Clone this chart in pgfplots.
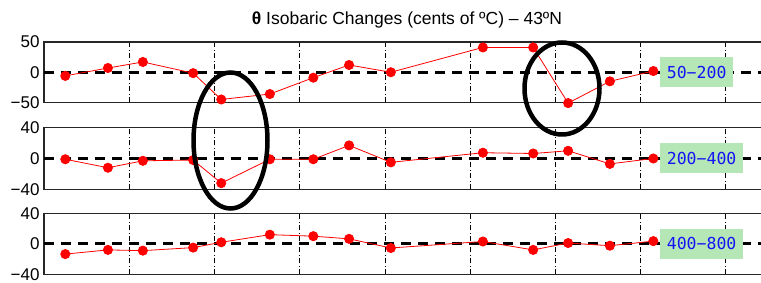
\documentclass[border=0pt]{standalone}
\usepackage{pgfplots}
\pgfplotsset{compat=1.18}
\usepackage{fontspec}
\setmainfont{Liberation Sans}
\newfontfamily\monofont{DejaVu Sans Mono}
\definecolor{boxgreen}{RGB}{181,230,181}
\definecolor{lblue}{RGB}{20,20,245}
\pgfplotsset{
  panel/.style={
    anchor=south west,
    scale only axis,
    width=767pt,
    xmin=0, xmax=9,
    xtick={1,2,3,4,5,6,7,8},
    xticklabels={},
    xmajorgrids,
    major grid style={black, line width=0.6pt, dash pattern=on 5pt off 2.5pt on 1pt off 2.5pt},
    major tick length=0pt,
    axis line style={black!85, line width=1.1pt},
    yticklabel style={font=\fontsize{17}{17}\selectfont, xshift=-1pt},
    clip=false,
  },
  zero/.style={black, line width=2.6pt, dash pattern=on 10pt off 7pt, forget plot},
  ser/.style={red, line width=0.8pt, mark=*, mark size=4.6pt, mark options={fill=red, draw=red}},
}
\tikzset{
  lbl/.style={anchor=west, fill=boxgreen, text=lblue, font=\monofont\fontsize{16.5}{16.5}\selectfont, inner xsep=6.5pt, minimum height=30pt},
}
\begin{document}
\begin{tikzpicture}
\useasboundingbox (0pt,0pt) rectangle (761pt,283pt);
\clip (0pt,0pt) rectangle (761pt,283pt);
% top panel
\begin{axis}[panel, at={(44pt,180.5pt)}, height=60.5pt,
  ymin=-50, ymax=50, ytick={-50,0,50}, yticklabels={−50,0,50}]
\addplot[zero] coordinates {(0,0) (9,0)};
\addplot[ser] coordinates {
(0.25,-6) (0.75,7) (1.16,17) (1.75,-1.5) (2.08,-45) (2.65,-36) (3.16,-9)
(3.58,12) (4.07,0) (5.15,41) (5.74,41) (6.15,-51) (6.64,-15) (7.15,2)};
\node[lbl] at (axis cs:7.23,0) {50−200};
\end{axis}
% middle panel
\begin{axis}[panel, at={(44pt,93.7pt)}, height=61.6pt,
  ymin=-40, ymax=40, ytick={-40,0,40}, yticklabels={−40,0,40}]
\addplot[zero] coordinates {(0,0) (9,0)};
\addplot[ser] coordinates {
(0.25,-1) (0.75,-12) (1.16,-3) (1.75,-2) (2.08,-32) (2.65,-1) (3.16,-1)
(3.58,17) (4.07,-5) (5.15,7.5) (5.74,6.5) (6.15,10) (6.64,-7) (7.15,0)};
\node[lbl] at (axis cs:7.23,0) {200−400};
\end{axis}
% bottom panel
\begin{axis}[panel, at={(44pt,8.7pt)}, height=61pt,
  ymin=-40, ymax=40, ytick={-40,0,40}, yticklabels={−40,0,40}]
\addplot[zero] coordinates {(0,0) (9,0)};
\addplot[ser] coordinates {
(0.25,-13.5) (0.75,-8) (1.16,-9) (1.75,-5) (2.08,2) (2.65,12) (3.16,10)
(3.58,6.5) (4.07,-5.5) (5.15,3) (5.74,-8) (6.15,1) (6.64,-2.5) (7.15,3.5)};
\node[lbl] at (axis cs:7.23,0) {400−800};
\end{axis}
% annotations
\draw[black, line width=4.5pt] (230.5pt,142.5pt) ellipse [x radius=37pt, y radius=68pt];
\draw[black, line width=4.5pt] (562pt,194.5pt) ellipse [x radius=37.5pt, y radius=46pt];
% title
\node[anchor=base, font=\fontsize{17.5}{18}\selectfont] at (407pt,258pt) {\textbf{θ} Isobaric Changes (cents of ºC) – 43ºN};
\end{tikzpicture}
\end{document}
